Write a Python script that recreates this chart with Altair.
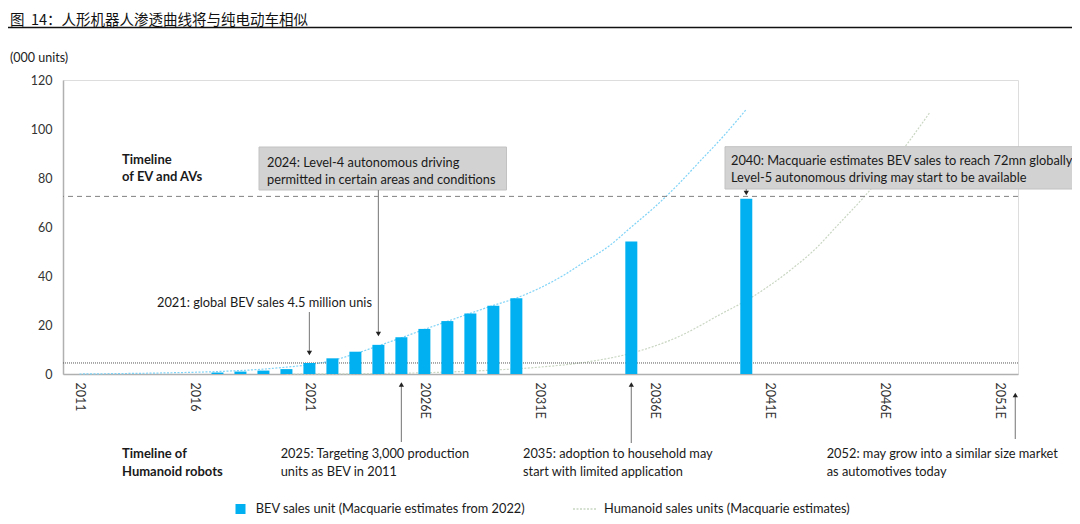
import altair as alt
import pandas as pd

# ---------------- data ----------------
bar_years = [2017, 2018, 2019, 2020, 2021, 2022, 2023, 2024, 2025, 2026, 2027, 2028, 2029, 2030, 2035, 2040]
bar_values = [0.6, 1.0, 1.4, 2.0, 4.5, 6.4, 9.1, 11.9, 15.0, 18.4, 21.6, 24.7, 27.9, 30.9, 54.1, 71.5]

bev_curve_years = [2011, 2013, 2015, 2017, 2019, 2020, 2021, 2022, 2023, 2024, 2025, 2026, 2027, 2028, 2029,
                   2030, 2031, 2032, 2033, 2034, 2035, 2036, 2037, 2038, 2039, 2040]
bev_curve_values = [0.0, 0.2, 0.5, 1.0, 2.0, 2.8, 3.8, 5.5, 8.3, 11.5, 14.8, 18.2, 21.5, 24.8, 28.0,
                    31.0, 35.0, 40.0, 46.0, 52.0, 60.0, 68.0, 77.0, 87.0, 97.0, 108.0]

hum_curve_years = [2020, 2023, 2025, 2027, 2029, 2031, 2033, 2035, 2037, 2039, 2040, 2041, 2042, 2043, 2044,
                   2045, 2046, 2047, 2048]
hum_curve_values = [0.0, 0.1, 0.3, 0.8, 1.6, 2.8, 4.8, 8.5, 15.0, 25.0, 30.0, 36.0, 43.0, 51.0, 61.0,
                    71.0, 82.0, 94.0, 107.0]

x_tick_years = [2011, 2016, 2021, 2026, 2031, 2036, 2041, 2046, 2051]
y_ticks = [0, 20, 40, 60, 80, 100, 120]

ref_72 = 72.5
ref_45 = 4.5

title_text = "图\u00a0\u00a014：人形机器人渗透曲线将与纯电动车相似"
unit_text = "(000 units)"
ev_timeline = "Timeline\nof EV and AVs"
hum_timeline = "Timeline of\nHumanoid robots"
note_2024 = "2024: Level-4 autonomous driving\npermitted in certain areas and conditions"
note_2040 = "2040: Macquarie estimates BEV sales to reach 72mn globally\nLevel-5 autonomous driving may start to be available"
note_2021 = "2021: global BEV sales 4.5 million unis"
note_2025 = "2025: Targeting 3,000 production\nunits as BEV in 2011"
note_2035 = "2035: adoption to household may\nstart with limited application"
note_2052 = "2052: may grow into a similar size market\nas automotives today"
legend_bev = "BEV sales unit (Macquarie estimates from 2022)"
legend_hum = "Humanoid sales units (Macquarie estimates)"

FONT = "Lato"
AXFONT = "Lato"
BLUE = "#00b0f0"
NOTE_SIZE = 12.8

bars_df = pd.DataFrame({"year": bar_years, "value": bar_values})
bev_df = pd.DataFrame({"year": bev_curve_years, "value": bev_curve_values})
hum_df = pd.DataFrame({"year": hum_curve_years, "value": hum_curve_values})
one = pd.DataFrame({"k": [0]})

xscale = alt.Scale(domain=[2010.5, 2051.6], nice=False, zero=False)
yscale = alt.Scale(domain=[0, 120], nice=False)

x_axis = alt.Axis(values=x_tick_years, labelAngle=90, ticks=False, grid=False, title=None,
                  labelExpr="datum.value >= 2026 ? datum.value + 'E' : '' + datum.value",
                  labelFont=AXFONT, labelFontSize=12.5, labelColor="#333333", labelPadding=8,
                  domainColor="#b0b0b0", domainWidth=1.5, labelFlush=False, labelOverlap=False)
y_axis = alt.Axis(values=y_ticks, ticks=False, grid=False, title=None, labelFont=AXFONT,
                  labelFontSize=12.5, labelColor="#333333", labelPadding=11,
                  domainColor="#b0b0b0", domainWidth=1.5)

bars = alt.Chart(bars_df).mark_bar(size=12, color=BLUE).encode(
    x=alt.X("year:Q", scale=xscale, axis=x_axis),
    y=alt.Y("value:Q", scale=yscale, axis=y_axis),
)

bev_line = alt.Chart(bev_df).mark_line(color="#7fd3f7", strokeWidth=1.2, strokeDash=[2, 1.5],
                                       interpolate="monotone").encode(
    x=alt.X("year:Q", scale=xscale), y=alt.Y("value:Q", scale=yscale))

hum_line = alt.Chart(hum_df).mark_line(color="#c9d6c2", strokeWidth=1.2, strokeDash=[2, 1.5],
                                       interpolate="monotone").encode(
    x=alt.X("year:Q", scale=xscale), y=alt.Y("value:Q", scale=yscale))

rule72 = alt.Chart(one).mark_rule(color="#808080", strokeDash=[5, 4], strokeWidth=1).encode(
    y=alt.datum(ref_72, scale=yscale))
rule45 = alt.Chart(one).mark_rule(color="#555555", strokeDash=[1, 1], strokeWidth=1).encode(
    y=alt.datum(ref_45, scale=yscale))

layers = [hum_line, bev_line, rule45, rule72, bars]

# ---- boxes ----
def box(x1, y1, x2, y2):
    return alt.Chart(one).mark_rect(fill="#d2d2d2", stroke="#c2c2c2", strokeWidth=1).encode(
        x=alt.value(x1), x2=alt.value(x2), y=alt.value(y1), y2=alt.value(y2))

layers.append(box(196, 67, 443.5, 110))
layers.append(box(662, 66.7, 1011, 109))

def txt(s, x, y, bold=False, size=NOTE_SIZE, lh=17, baseline="alphabetic"):
    return alt.Chart(one).mark_text(text=s, lineBreak="\n", align="left", baseline=baseline,
                                    font=FONT, fontSize=size, lineHeight=lh,
                                    fontWeight="bold" if bold else "normal",
                                    color="#1a1a1a").encode(x=alt.value(x), y=alt.value(y))

layers.append(txt(note_2024, 204, 86.5))
layers.append(txt(note_2040, 668, 85))
layers.append(txt(ev_timeline, 59, 84, bold=True, size=13))
layers.append(txt(note_2021, 94, 227))
layers.append(txt(hum_timeline, 59, 378, bold=True, size=13, lh=18))
layers.append(txt(note_2025, 217.7, 378, lh=18))
layers.append(txt(note_2035, 460, 378, lh=18))
layers.append(txt(note_2052, 763.7, 378, lh=18))

# title + unit label
layers.append(alt.Chart(one).mark_text(text=title_text, align="left", baseline="alphabetic",
                                       font="Noto Sans CJK SC", fontSize=14.5, color="#111111").encode(
    x=alt.value(-53), y=alt.value(-55.5)))
layers.append(alt.Chart(one).mark_rule(color="#111111", strokeWidth=1.5).encode(
    x=alt.value(-55), x2=alt.value(1017), y=alt.value(-52.5)))
layers.append(alt.Chart(one).mark_text(text=unit_text, align="left", baseline="alphabetic",
                                       font=AXFONT, fontSize=12.5, color="#222222").encode(
    x=alt.value(-53), y=alt.value(-18)))

# ---- arrows ----
def arrow(year, y1, y2, head_y, shape):
    r = alt.Chart(one).mark_rule(color="#8a8a8a", strokeWidth=1.2).encode(
        x=alt.datum(year, scale=xscale), y=alt.value(y1), y2=alt.value(y2))
    h = alt.Chart(one).mark_point(shape=shape, filled=True, size=28, color="#222222", opacity=1).encode(
        x=alt.datum(year, scale=xscale), y=alt.value(head_y))
    return [r, h]

layers += arrow(2021, 232, 271, 273, "triangle-down")
layers += arrow(2024, 110, 252, 254, "triangle-down")
layers += arrow(2040, 109, 112, 113, "triangle-down")
layers += arrow(2025, 306, 362, 304.5, "triangle-up")
layers += arrow(2035, 306, 363, 304.5, "triangle-up")
layers += arrow(2051.7, 317, 359, 315, "triangle-up")

# ---- legend ----
layers.append(alt.Chart(one).mark_square(size=100, color=BLUE, filled=True, opacity=1).encode(
    x=alt.value(177.5), y=alt.value(429)))
layers.append(txt(legend_bev, 192.8, 429, baseline="middle"))
layers.append(alt.Chart(one).mark_rule(color="#c9d6c2", strokeWidth=1.5, strokeDash=[2, 1.5]).encode(
    x=alt.value(510), x2=alt.value(534), y=alt.value(429)))
layers.append(txt(legend_hum, 541, 429, baseline="middle"))

chart = alt.layer(*layers).properties(
    width=955, height=294,
    autosize=alt.AutoSizeParams(type="none"),
    padding={"left": 55, "top": 72, "right": 54, "bottom": 142},
).configure_view(stroke=None).configure(background="white")

chart.save("out.html", embed_options={"renderer": "svg", "actions": False})
